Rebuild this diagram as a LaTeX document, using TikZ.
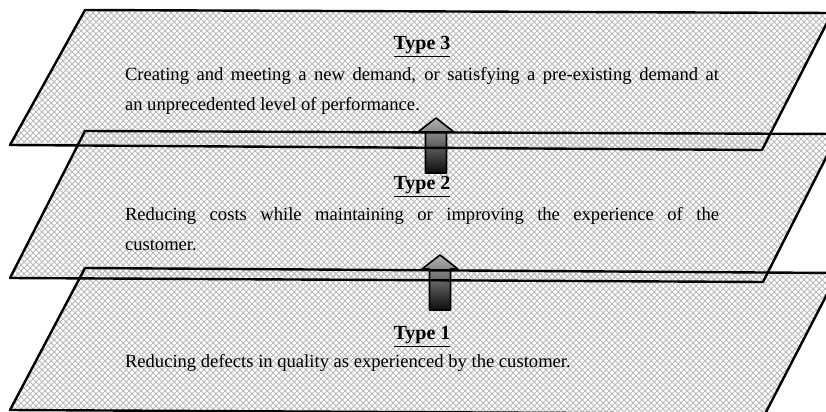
\documentclass[tikz,border=0pt]{standalone}
\usepackage{fontspec}
\setmainfont{Liberation Serif}
\usetikzlibrary{patterns, positioning}
\def\shaftlen{41}

\begin{document}
\begin{tikzpicture}[x=0.5pt, y=-0.5pt, line join=round]
    \tikzstyle{plane}=[pattern=crosshatch, pattern color=black!28]
    \tikzstyle{rim}=[draw=black, line width=1.2pt]
    \tikzstyle{typelabel}=[inner sep=0pt, anchor=base, font=\bfseries]
    \tikzstyle{desc}=[inner sep=0pt, text width=297pt, align=justify, font=\fontsize{9.3}{15}\selectfont]
    \tikzstyle{blockarrow}=[draw=black, line width=0.8pt, top color=black!30, bottom color=black!95]

    \useasboundingbox (0,0) rectangle (826,412);
    \clip (0,0) rectangle (826,412);

    % the three levels, lowest first
    \fill[plane] (85,268) -- (838,273) -- (765,414) -- (10,410) -- cycle;
    \fill[plane] (85,131) -- (838,134) -- (763,282) -- (10,278) -- cycle;
    \fill[plane] (85,10) -- (832,13) -- (762,150) -- (10,145) -- cycle;

    % arrows leading up from one level to the next
    \foreach \x/\tip in {440/255, 436/118}
        \shadedraw[blockarrow] (\x,\tip) -- (\x+18,\tip+14) -- (\x+10.5,\tip+14)
            -- (\x+10.5,\tip+14+\shaftlen) -- (\x-10.5,\tip+14+\shaftlen)
            -- (\x-10.5,\tip+14) -- (\x-18,\tip+14) -- cycle;

    \draw[rim] (85,268) -- (838,273) -- (765,414) -- (10,410) -- cycle;
    \draw[rim] (85,131) -- (838,134) -- (763,282) -- (10,278) -- cycle;
    \draw[rim] (85,10) -- (832,13) -- (762,150) -- (10,145) -- cycle;

    % labels
    \node[typelabel] (t3) at (422,49) {\underline{Type 3}};
    \node[desc, below=4.5pt of t3] (d3) {Creating and meeting a new demand, or satisfying a pre-existing demand at\linebreak an unprecedented level of performance.};

    \node[typelabel] (t2) at (422,189) {\underline{Type 2}};
    \node[desc, below=4.5pt of t2] (d2) {Reducing costs while maintaining or improving the experience of the\linebreak customer.};

    \node[typelabel] (t1) at (422,339) {\underline{Type 1}};
    \node[desc, below=3pt of t1] (d1) {Reducing defects in quality as experienced by the customer.};
\end{tikzpicture}
\end{document}
